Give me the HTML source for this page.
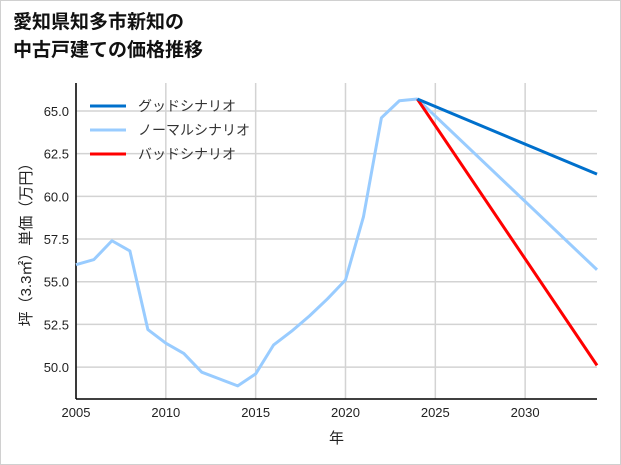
<!DOCTYPE html>
<html><head><meta charset="utf-8">
<style>
html,body{margin:0;padding:0;background:#fff;}
#wrap{position:relative;width:619px;height:463px;border:1px solid #d0d0d0;overflow:hidden;}
svg text{font-family:"Liberation Sans","Noto Sans CJK JP",sans-serif;}
</style></head>
<body>
<div id="wrap">
<svg id="chart" width="619" height="463">
<text x="12" y="27" font-size="19" font-weight="bold" fill="#111">愛知県知多市新知の</text>
<text x="12" y="55" font-size="19" font-weight="bold" fill="#111">中古戸建ての価格推移</text>
<g id="grid"></g><g id="axes"></g><g id="series"></g><g id="legend"></g>
</svg>
</div>
<script>
const years=[2005,2006,2007,2008,2009,2010,2011,2012,2013,2014,2015,2016,2017,2018,2019,2020,2021,2022,2023,2024];
const history=[56.0,56.3,57.4,56.8,52.2,51.4,50.8,49.7,49.3,48.9,49.6,51.3,52.1,53.0,54.0,55.1,58.8,64.6,65.6,65.7];
const projYears=[2024,2034];
const goodVals=[65.7,61.3];
const normalVals=[65.7,55.7];
const badVals=[65.7,50.1];
const xTicks=[2005,2010,2015,2020,2025,2030];
const yTicks=[50.0,52.5,55.0,57.5,60.0,62.5,65.0];

const NS="http://www.w3.org/2000/svg";
const L=75,R=596,T=82,B=398;
const x0=2005,x1=2034,y0=48.13,y1=66.64;
const xs=v=>L+(v-x0)/(x1-x0)*(R-L);
const ys=v=>B-(v-y0)/(y1-y0)*(B-T);
function mk(tag,attrs,parent){const e=document.createElementNS(NS,tag);for(const k in attrs)e.setAttribute(k,attrs[k]);parent.appendChild(e);return e;}
const grid=document.getElementById('grid'),axes=document.getElementById('axes'),series=document.getElementById('series'),legend=document.getElementById('legend');

xTicks.forEach(t=>{
  const ln=mk('line',{x1:xs(t),x2:xs(t),y1:T,y2:B,stroke:'#d3d3d3','stroke-width':1.5},grid);
  
  
  const tx=mk('text',{x:xs(t),y:B+18,'font-size':13,'text-anchor':'middle',fill:'#222'},axes);
  tx.textContent=t;
  
  
});
yTicks.forEach(t=>{
  const ln=mk('line',{x1:L,x2:R,y1:ys(t),y2:ys(t),stroke:'#d3d3d3','stroke-width':1.5},grid);
  
  
  const tx=mk('text',{x:L-7,y:ys(t)+5,'font-size':13,'text-anchor':'end',fill:'#222'},axes);
  tx.textContent=t.toFixed(1);
  
  
});
const ya=mk('line',{x1:L,x2:L,y1:T,y2:B,stroke:'#000','stroke-width':1.5},axes);


const xa=mk('line',{x1:L,x2:R,y1:B,y2:B,stroke:'#000','stroke-width':1.5},axes);


const xt=mk('text',{x:(L+R)/2,y:442,'font-size':15,'text-anchor':'middle',fill:'#222'},axes);
xt.textContent='年';


const yt=mk('text',{x:0,y:0,'font-size':15,'text-anchor':'middle',fill:'#222',transform:`translate(30,${(T+B)/2}) rotate(-90)`},axes);
yt.textContent='坪（3.3㎡）単価（万円）';



function line(xv,yv,color,name){
  const pts=xv.map((v,i)=>xs(v)+','+ys(yv[i])).join(' ');
  const p=mk('polyline',{points:pts,fill:'none',stroke:color,'stroke-width':3,'stroke-linejoin':'round'},series);
  
  
}
line(years,history,'#99ccff','history-line');
line(projYears,normalVals,'#99ccff','normal-scenario-line');
line(projYears,badVals,'#ff0000','bad-scenario-line');
line(projYears,goodVals,'#0070cc','good-scenario-line');

const items=[['グッドシナリオ','#0070cc'],['ノーマルシナリオ','#99ccff'],['バッドシナリオ','#ff0000']];
items.forEach((it,i)=>{
  const y=105+i*24;
  const g=mk('g',{},legend);
  
  
  mk('line',{x1:89,x2:125,y1:y,y2:y,stroke:it[1],'stroke-width':3},g);
  const t=mk('text',{x:137,y:y+5,'font-size':14,fill:'#333'},g);
  t.textContent=it[0];
});
</script>
</body></html>
